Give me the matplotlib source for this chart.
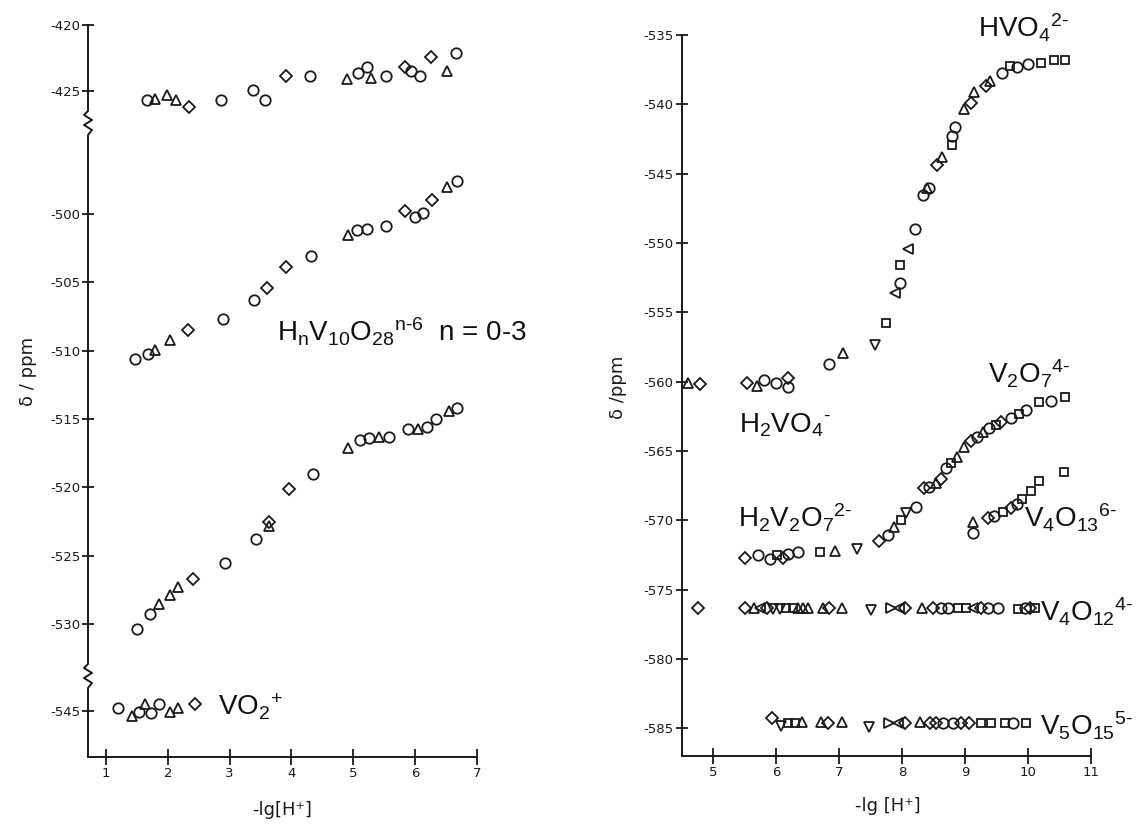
import numpy as np
import matplotlib.pyplot as plt

plt.rcParams['axes.unicode_minus'] = False
plt.rcParams['mathtext.fontset'] = 'custom'
plt.rcParams['mathtext.rm'] = 'Liberation Sans'
plt.rcParams['mathtext.it'] = 'Liberation Sans:italic'
plt.rcParams['mathtext.bf'] = 'Liberation Sans:bold'

# ---------------- data: left panel (decavanadate + VO2+), -lg[H+] vs delta/ppm
top_x = [1.66, 1.79, 1.99, 2.13, 2.34, 2.86, 3.37, 3.58, 3.91, 4.30, 4.89,
         5.07, 5.22, 5.29, 5.53, 5.84, 5.94, 6.08, 6.25, 6.51, 6.66]
top_y = [-425.7, -425.6, -425.3, -425.7, -426.2, -425.7, -424.9, -425.7, -423.9, -423.9, -424.1,
         -423.6, -423.2, -424.0, -423.9, -423.2, -423.5, -423.9, -422.4, -423.5, -422.1]
top_m = "o^^^DoooDo^oo^oDooD^o"

mid_x = [1.47, 1.68, 1.80, 2.04, 2.33, 2.90, 3.39, 3.60, 3.91, 4.32,
         4.91, 5.06, 5.22, 5.53, 5.84, 6.00, 6.12, 6.27, 6.51, 6.67]
mid_y = [-510.6, -510.25, -509.95, -509.2, -508.5, -507.7, -506.3, -505.4, -503.9, -503.1,
         -501.5, -501.2, -501.1, -500.9, -499.8, -500.2, -499.9, -499.0, -498.0, -497.6]
mid_m = "oo^^DooDDo^oooDooD^o"

low_x = [1.51, 1.71, 1.85, 2.04, 2.16, 2.41, 2.93, 3.43, 3.63, 3.64, 3.96, 4.35,
         4.92, 5.11, 5.26, 5.41, 5.57, 5.89, 6.05, 6.19, 6.34, 6.54, 6.67]
low_y = [-530.4, -529.3, -528.5, -527.9, -527.3, -526.7, -525.5, -523.8, -522.8, -522.5, -520.1, -519.0,
         -517.1, -516.5, -516.4, -516.3, -516.3, -515.7, -515.7, -515.6, -515.0, -514.4, -514.2]
low_m = "oo^^^Doo^DDo^oo^oo^oo^o"

vo2_x = [1.20, 1.42, 1.54, 1.63, 1.73, 1.86, 2.04, 2.17, 2.44]
vo2_y = [-544.8, -545.4, -545.1, -544.5, -545.2, -544.5, -545.1, -544.8, -544.5]
vo2_m = "o^o^oo^^D"

# ---------------- data: right panel (orthovanadate region)
h2vo4_x = [4.61, 4.79, 5.54, 5.70, 5.81, 6.00, 6.19, 6.19]
h2vo4_y = [-560.1, -560.2, -560.1, -560.3, -559.9, -560.1, -559.7, -560.4]
h2vo4_m = "^DD^ooDo"

hvo4_x = [6.84, 7.06, 7.57, 7.75, 7.89, 7.97, 7.97, 8.10, 8.20, 8.34, 8.39, 8.43, 8.55, 8.64, 8.79,
          8.79, 8.84, 8.98, 9.10, 9.14, 9.33, 9.39, 9.58, 9.71, 9.82, 10.00, 10.20, 10.42, 10.58]
hvo4_y = [-558.7, -557.95, -557.35, -555.8, -553.6, -552.85, -551.6, -550.4, -549.0, -546.5, -546.0,
          -546.0, -544.4, -543.8, -542.9, -542.3, -541.6, -540.3, -539.9, -539.1, -538.7, -538.3,
          -537.7, -537.2, -537.3, -537.1, -537.0, -536.8, -536.8]
hvo4_m = "o^vs<os<oo^oD^soo^D^D^osoosss"

v2o7_x = [5.50, 5.72, 5.90, 6.01, 6.11, 6.19, 6.35, 6.70, 6.93, 7.28,
          7.64, 7.77, 7.87, 7.98, 8.06, 8.22, 8.35, 8.43, 8.54, 8.62, 8.70, 8.78, 8.88, 8.99,
          9.09, 9.19, 9.28, 9.38, 9.49, 9.57, 9.73, 9.86, 9.97, 10.18, 10.36, 10.58]
v2o7_y = [-572.7, -572.5, -572.8, -572.5, -572.7, -572.4, -572.3, -572.3, -572.2, -572.1,
          -571.5, -571.06, -570.46, -569.98, -569.45, -569.02, -567.7, -567.6, -567.3, -567.0,
          -566.25, -565.9, -565.4, -564.7, -564.3, -563.97, -563.6, -563.36, -563.1, -562.9,
          -562.6, -562.3, -562.04, -561.5, -561.4, -561.1]
v2o7_m = "DoosDoos^v" + "Do^svoDo^Dos^^Do^osDososos"

v4o13_x = [9.12, 9.12, 9.36, 9.46, 9.60, 9.73, 9.83, 9.91, 10.05, 10.18, 10.57]
v4o13_y = [-570.9, -570.1, -569.86, -569.7, -569.4, -569.1, -568.8, -568.5, -567.9, -567.2, -566.5]
v4o13_m = "o^DosDossss"

v4o12_x = [4.76, 5.50, 5.65, 5.74, 5.85, 5.95, 6.06, 6.16, 6.27, 6.35, 6.43, 6.51,
           6.75, 6.84, 7.04, 7.51, 7.83, 7.95, 8.04, 8.32, 8.49, 8.62, 8.73, 8.89,
           9.02, 9.13, 9.26, 9.37, 9.52, 9.84, 9.95, 10.03, 10.11]
v4o12_y = [-576.35, -576.35, -576.3, -576.3, -576.35, -576.4, -576.4, -576.3, -576.35, -576.3, -576.3, -576.3,
           -576.3, -576.35, -576.3, -576.5, -576.35, -576.35, -576.35, -576.3, -576.35, -576.35, -576.35, -576.35,
           -576.35, -576.3, -576.35, -576.35, -576.35, -576.4, -576.35, -576.35, -576.3]
v4o12_m = "D" + "D^<Dvvss^^^" + "^D^" + "v><D^Doos" + "s<DoosoDs"

v5o15_x = [5.93, 6.08, 6.19, 6.30, 6.42, 6.72, 6.83, 7.04, 7.48, 7.80, 7.94, 8.04,
           8.28, 8.44, 8.54, 8.65, 8.81, 8.94, 9.07, 9.26, 9.42, 9.63, 9.76, 9.97]
v5o15_y = [-584.3, -584.85, -584.6, -584.6, -584.55, -584.55, -584.6, -584.55, -584.95, -584.65, -584.6, -584.6,
           -584.55, -584.6, -584.6, -584.6, -584.65, -584.6, -584.6, -584.65, -584.65, -584.65, -584.6, -584.65]
v5o15_m = "Dvss^^D^v><D^DDooDDsssos"

left_yticks = [-545, -530, -525, -520, -515, -510, -505, -500, -425, -420]
left_xticks = [1, 2, 3, 4, 5, 6, 7]
right_yticks = [-535, -540, -545, -550, -555, -560, -565, -570, -575, -580, -585]
right_xticks = [5, 6, 7, 8, 9, 10, 11]

# ---------------- figure geometry (pixels of a 1137 x 827 canvas)
W, H = 1137, 827
fig = plt.figure(figsize=(W / 100, H / 100), dpi=100)


def box(x0, y0, x1, y1):
    return [x0 / W, 1 - y1 / H, (x1 - x0) / W, (y1 - y0) / H]


# broken y axis on the left: value -> vertical pixel position
brk_v = np.array([-600.0, -548.4, -543.5, -531.5, -495.0, -427.0, -420.0, -380.0])
brk_px = np.array([1462.4, 757.0, 690.0, 644.5, 145.7, 117.4, 25.0, -503.0])


def fwd(v):
    return -np.interp(v, brk_v, brk_px)


def inv(h):
    return np.interp(h, -brk_px, brk_v)


axl = fig.add_axes(box(88, 25, 477, 757))
axr = fig.add_axes(box(681.5, 35.2, 1091, 755.9))

MS = {'o': 7.5, '^': 7.5, 'v': 7.5, '<': 7.5, '>': 7.5, 'D': 5.8, 's': 6.3}


def plot_series(ax, xs, ys, marks):
    xs = np.asarray(xs)
    ys = np.asarray(ys)
    marks = np.array(list(marks))
    for m in sorted(set(marks)):
        sel = marks == m
        ax.plot(xs[sel], ys[sel], linestyle='none', marker=m, ms=MS[m],
                mfc='none', mec='#1a1a1a', mew=1.3, clip_on=False)


# left panel
axl.set_yscale('function', functions=(fwd, inv))
axl.set_xlim(0.71, 7.0)
axl.set_ylim(-548.4, -420.0)
for xs, ys, ms in [(top_x, top_y, top_m), (mid_x, mid_y, mid_m),
                   (low_x, low_y, low_m), (vo2_x, vo2_y, vo2_m)]:
    plot_series(axl, xs, ys, ms)
axl.set_yticks(left_yticks)
axl.set_yticklabels([str(t) for t in left_yticks])
axl.set_xticks(left_xticks)
axl.yaxis.set_minor_locator(plt.NullLocator())


# left axis line drawn by hand with the two zigzag breaks
def frac(px):
    return (757 - px) / (757 - 25)


a = 1 / 389
zig_x = [0, 0, -4 * a, 4 * a, -4 * a, 4 * a, 0, 0, -4 * a, 4 * a, -4 * a, 4 * a, 0, 0]
zig_y = [frac(p) for p in [25, 111, 115, 120, 125, 130, 135, 664, 668, 673, 678, 683, 688, 757]]
axl.plot(zig_x, zig_y, color='#1a1a1a', lw=1.4, transform=axl.transAxes, clip_on=False)

# right panel
axr.set_xlim(4.5, 11.0)
axr.set_ylim(-587.0, -535.0)
for xs, ys, ms in [(h2vo4_x, h2vo4_y, h2vo4_m), (hvo4_x, hvo4_y, hvo4_m),
                   (v2o7_x, v2o7_y, v2o7_m), (v4o13_x, v4o13_y, v4o13_m),
                   (v4o12_x, v4o12_y, v4o12_m), (v5o15_x, v5o15_y, v5o15_m)]:
    plot_series(axr, xs, ys, ms)
axr.set_yticks(right_yticks)
axr.set_yticklabels([str(t) for t in right_yticks])
axr.set_xticks(right_xticks)

for ax in (axl, axr):
    ax.spines['top'].set_visible(False)
    ax.spines['right'].set_visible(False)
    ax.spines['left'].set_linewidth(1.4)
    ax.spines['bottom'].set_linewidth(1.4)
    ax.spines['left'].set_color('#1a1a1a')
    ax.spines['bottom'].set_color('#1a1a1a')
    ax.tick_params(axis='y', direction='inout', length=9, width=1.3, labelsize=9.5,
                   pad=1, colors='#1a1a1a')
    ax.tick_params(axis='x', direction='inout', length=11, width=1.3, labelsize=9.5,
                   pad=2, colors='#1a1a1a')
    ax.patch.set_visible(False)
axl.spines['left'].set_visible(False)

# axis titles
lab = dict(fontsize=13, color='#1a1a1a', family='DejaVu Sans')
fig.text(28 / W, 1 - 371 / H, 'δ / ppm', rotation=90, ha='center', va='center', **lab)
fig.text(618 / W, 1 - 387 / H, 'δ /ppm', rotation=90, ha='center', va='center', **lab)
fig.text(282 / W, 1 - 810 / H, '-lg[H⁺]', ha='center', va='center', **lab)
fig.text(888 / W, 1 - 806 / H, '-lg [H⁺]', ha='center', va='center', **lab)

# species labels
sp = dict(fontsize=20, color='#111111', family='Liberation Sans', va='baseline', ha='left')
fig.text(277 / W, 1 - 342 / H, r'$\mathrm{H_nV_{10}O_{28}}{}^{\text{n-6}}$  n = 0-3', **sp)
fig.text(218 / W, 1 - 715 / H, r'$\mathrm{VO_2}{}^{\text{+}}$', **sp)
fig.text(978 / W, 1 - 37 / H, r'$\mathrm{HVO_4}{}^{\text{2-}}$', **sp)
fig.text(988 / W, 1 - 383 / H, r'$\mathrm{V_2O_7}{}^{\text{4-}}$', **sp)
fig.text(739 / W, 1 - 432 / H, r'$\mathrm{H_2VO_4}{}^{\text{-}}$', **sp)
fig.text(738 / W, 1 - 528 / H, r'$\mathrm{H_2V_2O_7}{}^{\text{2-}}$', **sp)
fig.text(1024 / W, 1 - 527 / H, r'$\mathrm{V_4O_{13}}{}^{\text{6-}}$', **sp)
fig.text(1040 / W, 1 - 622 / H, r'$\mathrm{V_4O_{12}}{}^{\text{4-}}$', **sp)
fig.text(1040 / W, 1 - 735 / H, r'$\mathrm{V_5O_{15}}{}^{\text{5-}}$', **sp)

fig.savefig('out.png', dpi=100)
